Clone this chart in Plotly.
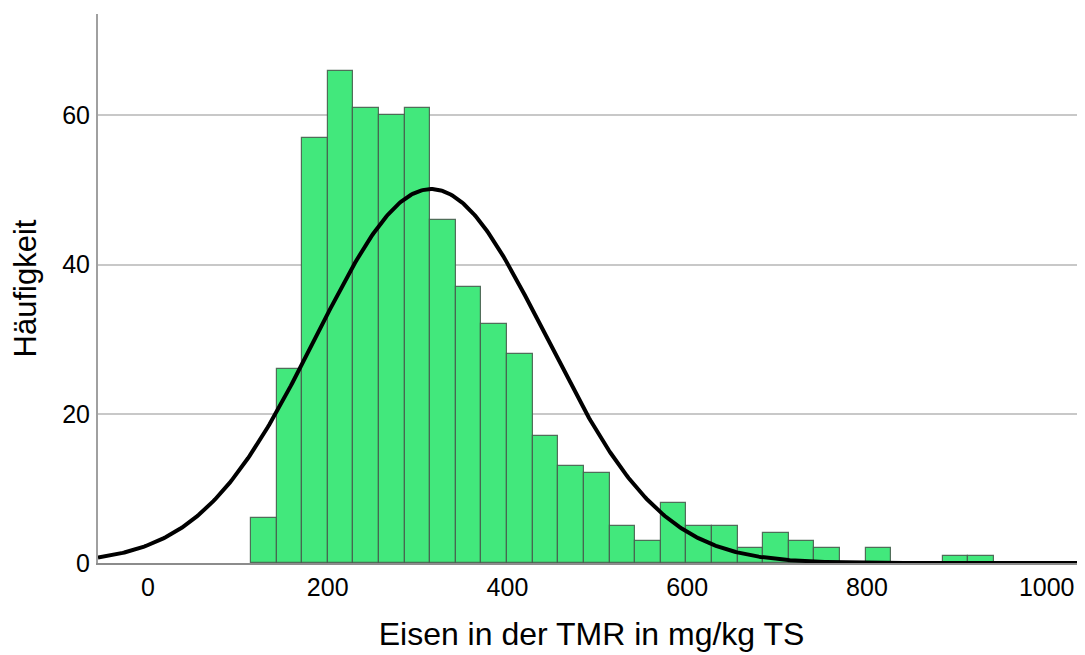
import numpy as np
import plotly.graph_objects as go

# Histogram data
bin_start = 114.6
bin_width = 28.5
counts = [6, 26, 57, 66, 61, 60, 61, 46, 37, 32, 28, 17, 13, 12, 5, 3, 8, 5, 5,
          2, 4, 3, 2, 0, 2, 0, 0, 1, 1]

# Normal curve parameters
mean_val = 315.0
sd_val = 127.7
n_total = sum(counts)

x_ticks = [0, 200, 400, 600, 800, 1000]
y_ticks = [0, 20, 40, 60]
x_range = [-55.6, 1042.6]
y_range = [0, 73.6]

centers = [bin_start + bin_width * (i + 0.5) for i in range(len(counts))]

xs = np.linspace(x_range[0], x_range[1], 600)
ys = n_total * bin_width / (sd_val * np.sqrt(2 * np.pi)) * np.exp(-0.5 * ((xs - mean_val) / sd_val) ** 2)

fig = go.Figure()
fig.add_trace(go.Bar(
    x=centers, y=counts, width=bin_width,
    marker=dict(color="#42e87c", line=dict(color="rgba(70,95,78,0.9)", width=1.2)),
    showlegend=False, hoverinfo="x+y",
))
fig.add_trace(go.Scatter(
    x=xs, y=ys, mode="lines",
    line=dict(color="black", width=4),
    showlegend=False, hoverinfo="skip",
))

font_family = "Liberation Sans, Arial, sans-serif"
fig.update_layout(
    width=1077, height=647, autosize=False,
    margin=dict(l=90, r=0, t=6, b=92),
    plot_bgcolor="white", paper_bgcolor="white",
    bargap=0,
    font=dict(family=font_family, color="black", size=25),
    xaxis=dict(
        range=x_range, tickvals=x_ticks, ticktext=[str(v) for v in x_ticks],
        showgrid=False, zeroline=False,
        showline=True, linecolor="#8c8c8c", linewidth=2,
        ticks="outside", ticklen=1, tickcolor="rgba(0,0,0,0)",
        tickfont=dict(size=25, family=font_family, color="black"),
        title=dict(text="Eisen in der TMR in mg/kg TS", standoff=23,
                   font=dict(size=32, family=font_family, color="black")),
    ),
    yaxis=dict(
        range=y_range, tickvals=y_ticks, ticktext=[str(v) for v in y_ticks],
        showgrid=True, gridcolor="#c8c8c8", gridwidth=1.5,
        zeroline=False,
        showline=True, linecolor="#a0a0a0", linewidth=2,
        ticks="outside", ticklen=1, tickcolor="rgba(0,0,0,0)",
        tickfont=dict(size=25, family=font_family, color="black"),
        title=dict(text="Häufigkeit", standoff=19,
                   font=dict(size=31, family=font_family, color="black")),
    ),
)

fig.write_html("out.html")
